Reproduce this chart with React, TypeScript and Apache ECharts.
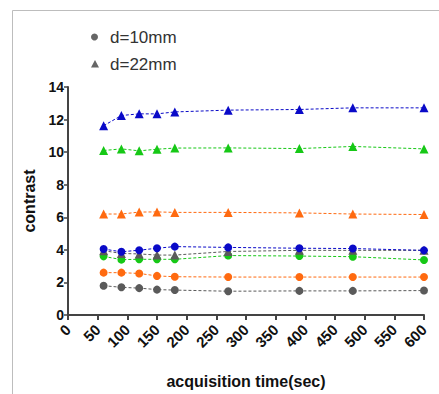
import React, { useEffect, useRef } from "react";
import * as echarts from "echarts";

const times = [60, 90, 120, 150, 180, 270, 390, 480, 600];

const blueTri = [11.62, 12.25, 12.35, 12.35, 12.47, 12.58, 12.62, 12.72, 12.72];
const greenTri = [10.1, 10.2, 10.08, 10.18, 10.25, 10.26, 10.22, 10.35, 10.2];
const orangeTri = [6.2, 6.2, 6.32, 6.33, 6.3, 6.3, 6.27, 6.2, 6.17];
const grayTri = [3.95, 3.78, 3.75, 3.68, 3.68, 3.9, 3.97, 3.97, 3.97];

const blueCirc = [4.05, 3.88, 3.98, 4.1, 4.2, 4.15, 4.1, 4.08, 3.97];
const greenCirc = [3.6, 3.4, 3.42, 3.42, 3.42, 3.65, 3.62, 3.58, 3.38];
const orangeCirc = [2.6, 2.6, 2.55, 2.4, 2.35, 2.33, 2.33, 2.33, 2.33];
const grayCirc = [1.8, 1.7, 1.65, 1.56, 1.53, 1.46, 1.48, 1.48, 1.5];

const legendNames = ["d=10mm", "d=22mm"];

const COLORS = {
  gray: "#5a5a5a",
  orange: "#ff6a10",
  green: "#16c816",
  blue: "#0a0ac8",
};

const FONT = "Liberation Sans, Arial, sans-serif";

function mk(name: string, vals: number[], color: string, symbol: string, size: number, z: number) {
  return {
    type: "line",
    name,
    data: times.map((t, i) => [t, vals[i]]),
    symbol,
    symbolSize: size,
    z,
    itemStyle: { color },
    lineStyle: { color, width: 1, type: [3, 2] },
  };
}

export default function App() {
  const ref = useRef<HTMLDivElement>(null);
  useEffect(() => {
    if (!ref.current) return;
    const chart = echarts.init(ref.current, null, { renderer: "svg" });
    chart.setOption({
      animation: false,
      backgroundColor: "#ffffff",
      textStyle: { fontFamily: FONT },
      graphic: [
        {
          type: "rect",
          shape: { x: 12.5, y: 10.5, width: 600, height: 600 },
          style: { fill: "none", stroke: "#bdbdbd", lineWidth: 1 },
          silent: true,
          z: -10,
        },
        {
          type: "circle",
          shape: { cx: 94.5, cy: 37, r: 3.5 },
          style: { fill: "#666" },
        },
        {
          type: "text",
          x: 110,
          y: 37,
          style: {
            text: legendNames[0],
            fontFamily: FONT,
            fontSize: 17,
            fill: "#333",
            verticalAlign: "middle",
          },
        },
        {
          type: "polygon",
          shape: { points: [[95, 60], [99, 67.5], [91, 67.5]] },
          style: { fill: "#666" },
        },
        {
          type: "text",
          x: 110,
          y: 64,
          style: {
            text: legendNames[1],
            fontFamily: FONT,
            fontSize: 17,
            fill: "#333",
            verticalAlign: "middle",
          },
        },
      ],
      grid: { left: 68, right: 15, top: 87, bottom: 74, containLabel: false },
      xAxis: {
        type: "value",
        min: 0,
        max: 600,
        interval: 50,
        name: "acquisition time(sec)",
        nameLocation: "middle",
        nameGap: 58,
        nameTextStyle: { fontFamily: FONT, fontSize: 16, fontWeight: "bold", color: "#111" },
        axisLine: { show: true, lineStyle: { color: "#444", width: 2 } },
        axisTick: { show: true, length: 5, lineStyle: { color: "#444", width: 2 } },
        axisLabel: { rotate: 45, fontFamily: FONT, fontSize: 15, fontWeight: "bold", color: "#111", margin: 12 },
        splitLine: { show: false },
      },
      yAxis: {
        type: "value",
        min: 0,
        max: 14,
        interval: 2,
        name: "contrast",
        nameLocation: "middle",
        nameGap: 25,
        nameRotate: 90,
        nameTextStyle: { fontFamily: FONT, fontSize: 16, fontWeight: "bold", color: "#111" },
        axisLine: { show: true, lineStyle: { color: "#444", width: 2 } },
        axisTick: { show: true, length: 4, lineStyle: { color: "#444", width: 1.5 } },
        axisLabel: { fontFamily: FONT, fontSize: 14, fontWeight: "bold", color: "#111", margin: 4 },
        splitLine: { show: false },
      },
      series: [
        mk(legendNames[0], grayCirc, COLORS.gray, "circle", 8, 2),
        mk(legendNames[0], orangeCirc, COLORS.orange, "circle", 8, 2),
        mk(legendNames[0], greenCirc, COLORS.green, "circle", 8, 2),
        mk(legendNames[1], grayTri, COLORS.gray, "triangle", 9, 3),
        mk(legendNames[1], orangeTri, COLORS.orange, "triangle", 9, 3),
        mk(legendNames[1], greenTri, COLORS.green, "triangle", 9, 3),
        mk(legendNames[0], blueCirc, COLORS.blue, "circle", 8, 4),
        mk(legendNames[1], blueTri, COLORS.blue, "triangle", 9, 3),
      ],
    });
    return () => chart.dispose();
  }, []);
  return <div ref={ref} style={{ width: 439, height: 394, position: "absolute", left: 0, top: 0 }} />;
}
